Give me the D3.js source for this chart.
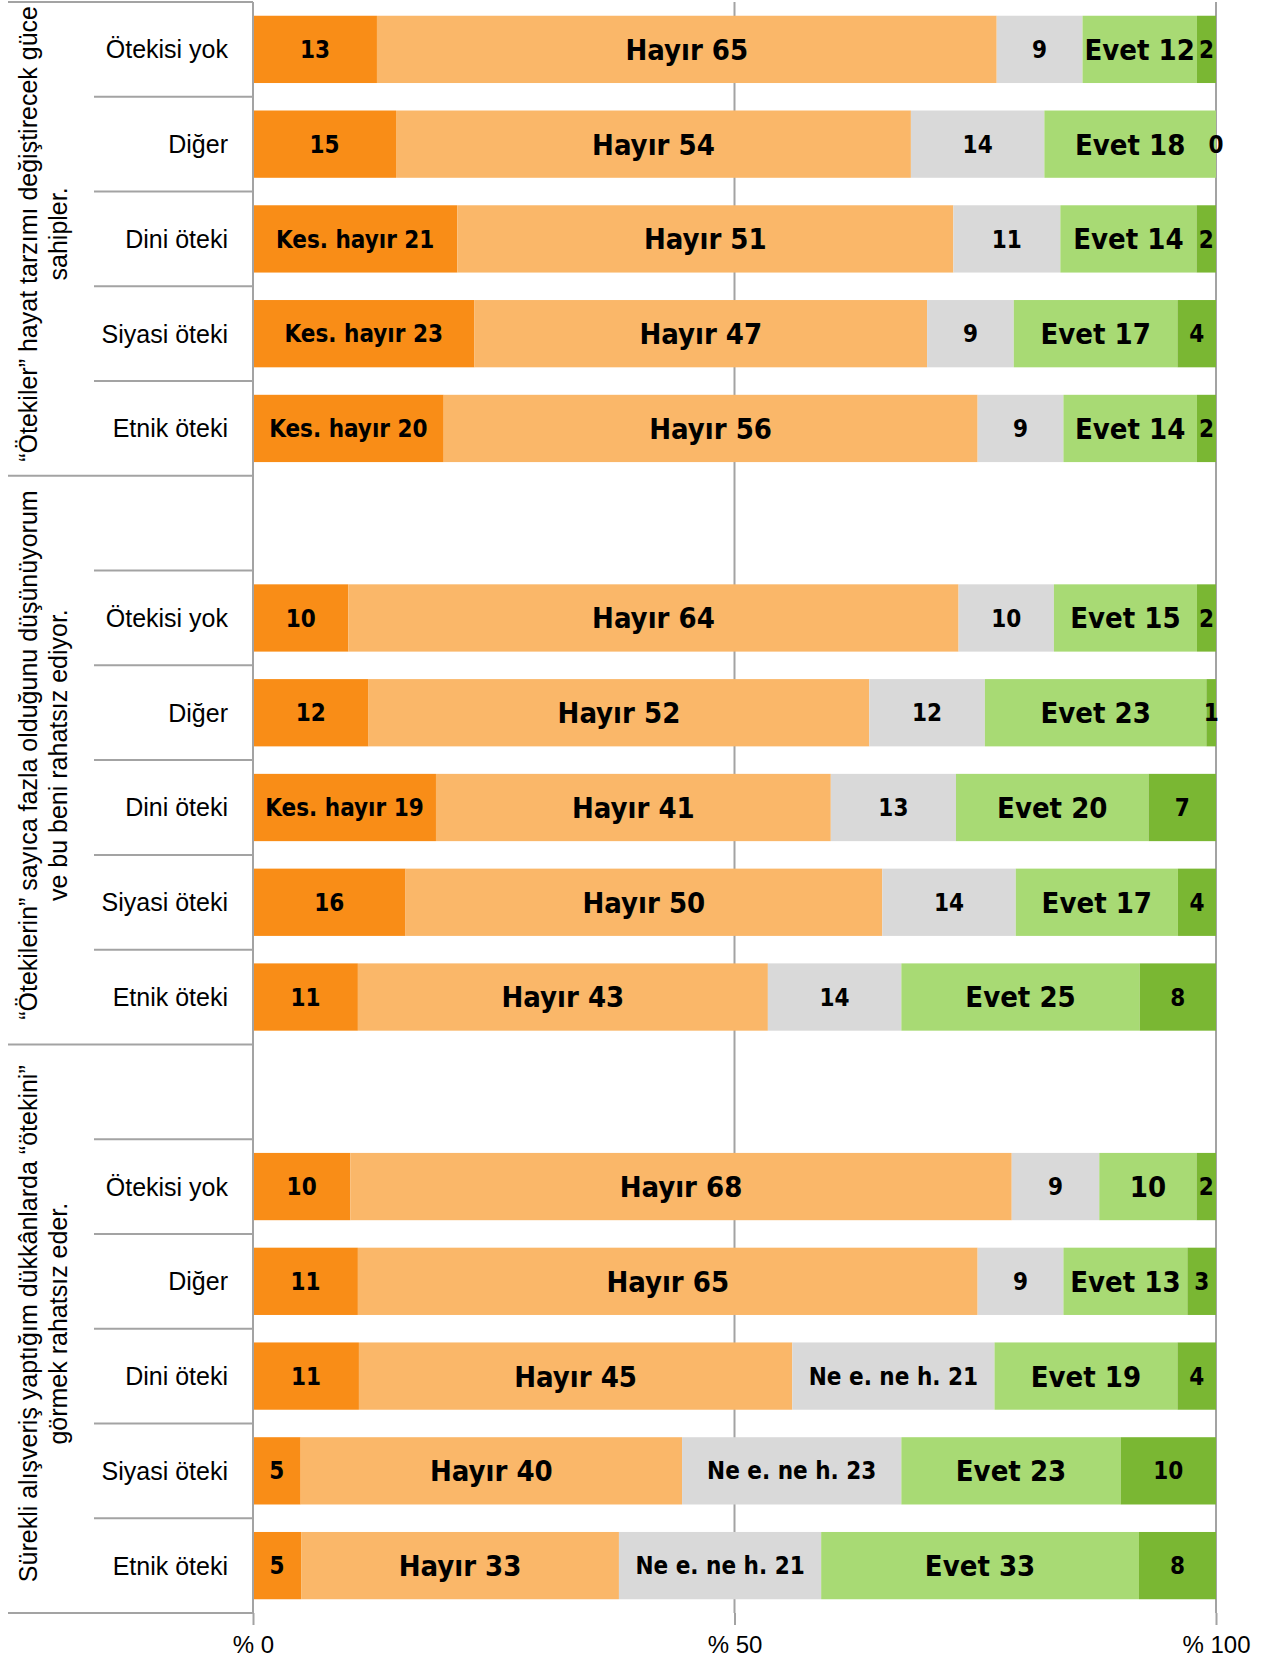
<!DOCTYPE html>
<html>
<head>
<meta charset="utf-8">
<script src="https://cdn.jsdelivr.net/npm/d3@7"></script>
<style>
  body { margin: 0; background: #fff; }
  svg { display: block; }
</style>
</head>
<body>
<div id="chart"></div>
<script>
// rows inside every group, top to bottom
var categories = ["Ötekisi yok", "Diğer", "Dini öteki", "Siyasi öteki", "Etnik öteki"];
var groupTitles = [
  ["“Ötekiler” hayat tarzımı değiştirecek güce", "sahipler."],
  ["“Ötekilerin” sayıca fazla olduğunu düşünüyorum", "ve bu beni rahatsız ediyor."],
  ["Sürekli alışveriş yaptığım dükkânlarda “ötekini”", "görmek rahatsız eder."]
];
var seriesNames = ["Kes. hayır", "Hayır", "Ne e. ne h.", "Evet", "Kes. evet"];

// one inner array per group
var kesHayir = [[13, 15, 21, 23, 20], [10, 12, 19, 16, 11], [10, 11, 11, 5, 5]];
var hayir    = [[65, 54, 51, 47, 56], [64, 52, 41, 50, 43], [68, 65, 45, 40, 33]];
var neNe     = [[9, 14, 11, 9, 9],    [10, 12, 13, 14, 14], [9, 9, 21, 23, 21]];
var evet     = [[12, 18, 14, 17, 14], [15, 23, 20, 17, 25], [10, 13, 19, 23, 33]];
var kesEvet  = [[2, 0, 2, 4, 2],      [2, 1, 7, 4, 8],      [2, 3, 4, 10, 8]];

// 1 = the segment label carries the series name, 0 = number only
var namedKesHayir = [[0, 0, 1, 1, 1], [0, 0, 1, 0, 0], [0, 0, 0, 0, 0]];
var namedHayir    = [[1, 1, 1, 1, 1], [1, 1, 1, 1, 1], [1, 1, 1, 1, 1]];
var namedNeNe     = [[0, 0, 0, 0, 0], [0, 0, 0, 0, 0], [0, 0, 1, 1, 1]];
var namedEvet     = [[1, 1, 1, 1, 1], [1, 1, 1, 1, 1], [0, 1, 1, 1, 1]];
var namedKesEvet  = [[0, 0, 0, 0, 0], [0, 0, 0, 0, 0], [0, 0, 0, 0, 0]];

var tickValues = [0, 0.5, 1];
var tickLabels = ["% 0", "% 50", "% 100"];

var colors = ["#F98D17", "#FAB769", "#D9D9D9", "#A8DA74", "#7AB733"];
var bigLabel = [false, true, false, true, false];

var width = 1269, height = 1661;
var plotTop = 2, plotBottom = 1613;
var lineCol = "#A3A3A3";

var svg = d3.select("#chart").append("svg")
    .attr("width", width)
    .attr("height", height);

var slotsPerGroup = categories.length + 1; // blank slot between groups
var nSlots = groupTitles.length * slotsPerGroup - 1;

var y = d3.scaleBand()
    .domain(d3.range(nSlots))
    .range([plotTop, plotBottom])
    .paddingInner(0.29)
    .paddingOuter(0.145);

var x = d3.scaleLinear().domain([0, 1]).range([253, 1216]);

// build the rows
var values = [kesHayir, hayir, neNe, evet, kesEvet];
var named = [namedKesHayir, namedHayir, namedNeNe, namedEvet, namedKesEvet];
var rows = [];
groupTitles.forEach(function(t, g) {
  categories.forEach(function(c, i) {
    var vals = values.map(function(s) { return s[g][i]; });
    var total = d3.sum(vals);
    var cum = 0;
    var segs = vals.map(function(v, k) {
      var s = { k: k, v: v, x0: cum / total, x1: (cum + v) / total,
        label: (named[k][g][i] ? seriesNames[k] + " " : "") + v };
      cum += v;
      return s;
    });
    rows.push({ slot: g * slotsPerGroup + i, cat: c, segs: segs });
  });
});

// gridlines at 50 and 100
svg.selectAll("line.grid")
  .data([0.5, 1])
  .enter().append("line")
    .attr("class", "grid")
    .attr("x1", function(d) { return x(d); })
    .attr("x2", function(d) { return x(d); })
    .attr("y1", plotTop)
    .attr("y2", plotBottom)
    .attr("stroke", lineCol)
    .attr("stroke-width", 2);

// bars
var rowG = svg.selectAll("g.row")
  .data(rows)
  .enter().append("g")
    .attr("class", "row")
    .attr("transform", function(d) { return "translate(0," + y(d.slot) + ")"; });

rowG.selectAll("rect")
  .data(function(d) { return d.segs; })
  .enter().append("rect")
    .attr("x", function(d) { return x(d.x0); })
    .attr("width", function(d) { return x(d.x1) - x(d.x0); })
    .attr("y", 0)
    .attr("height", y.bandwidth())
    .attr("fill", function(d) { return colors[d.k]; });

rowG.selectAll("text.val")
  .data(function(d) { return d.segs; })
  .enter().append("text")
    .attr("class", "val")
    .attr("x", function(d) { return x((d.x0 + d.x1) / 2); })
    .attr("y", y.bandwidth() / 2)
    .attr("dy", "0.36em")
    .attr("text-anchor", "middle")
    .style("font-family", "'DejaVu Sans Condensed', 'DejaVu Sans', sans-serif")
    .style("font-weight", "bold")
    .style("font-size", function(d) { return bigLabel[d.k] ? "29px" : "24px"; })
    .attr("fill", "#000")
    .text(function(d) { return d.label; });

// category labels
rowG.append("text")
    .attr("x", 228)
    .attr("y", y.bandwidth() / 2)
    .attr("dy", "0.36em")
    .attr("text-anchor", "end")
    .style("font-family", "'Liberation Sans', Arial, sans-serif")
    .style("font-size", "25px")
    .attr("fill", "#000")
    .text(function(d) { return d.cat; });

// horizontal separators in the label area
var step = y.step();
svg.selectAll("line.sep")
  .data(d3.range(nSlots + 1))
  .enter().append("line")
    .attr("class", "sep")
    .attr("x1", function(k) { return k % slotsPerGroup == 5 || k == 0 || k == nSlots ? 8 : 94; })
    .attr("x2", x(0))
    .attr("y1", function(k) { return plotTop + k * step; })
    .attr("y2", function(k) { return plotTop + k * step; })
    .attr("stroke", lineCol)
    .attr("stroke-width", 2);

// group titles, rotated
groupTitles.forEach(function(t, g) {
  var y0 = g == 0 ? plotTop : plotTop + (g * slotsPerGroup - 1) * step;
  var y1 = plotTop + (g * slotsPerGroup + categories.length) * step;
  var cy = (y0 + y1) / 2;
  t.forEach(function(line, j) {
    svg.append("text")
      .attr("transform", "translate(" + (37 + j * 30) + "," + (cy - 5) + ") rotate(-90)")
      .attr("text-anchor", "middle")
      .style("font-family", "'Liberation Sans', Arial, sans-serif")
      .style("font-size", "25px")
      .attr("fill", "#000")
      .text(line);
  });
});

// left axis line
svg.append("line")
    .attr("x1", x(0)).attr("x2", x(0))
    .attr("y1", plotTop).attr("y2", plotBottom)
    .attr("stroke", lineCol)
    .attr("stroke-width", 2);

// bottom axis
var xAxis = d3.axisBottom(x)
    .tickValues(tickValues)
    .tickFormat(function(d, i) { return tickLabels[i]; })
    .tickSizeInner(12)
    .tickSizeOuter(0)
    .tickPadding(11);

var ax = svg.append("g")
    .attr("transform", "translate(0," + plotBottom + ")")
    .call(xAxis);
ax.select(".domain").remove();
ax.selectAll(".tick line").attr("stroke", lineCol).attr("stroke-width", 2);
ax.selectAll(".tick text")
    .style("font-family", "'Liberation Sans', Arial, sans-serif")
    .style("font-size", "24px")
    .attr("fill", "#000");
</script>
</body>
</html>
